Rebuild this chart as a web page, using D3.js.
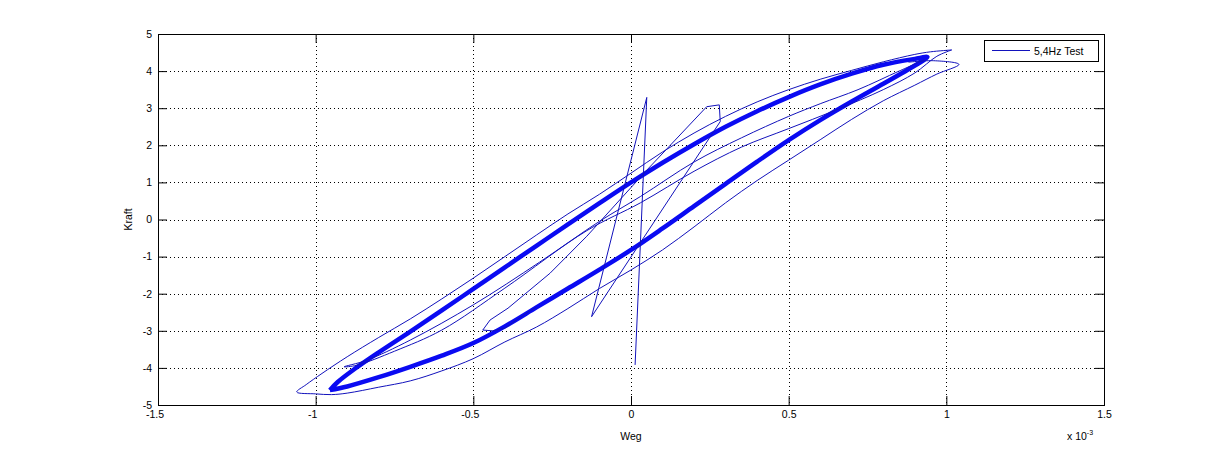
<!DOCTYPE html>
<html>
<head>
<meta charset="utf-8">
<script src="https://d3js.org/d3.v7.min.js"></script>
<style>
  body { margin: 0; background: #fff; }
  text { font-family: "Liberation Sans", Arial, sans-serif; font-size: 10.5px; fill: #000; }
</style>
</head>
<body>
<div id="plot"></div>
<script>
// Weg values are in units of 1e-3 (axis shows "x 10^-3"), Kraft as plotted
var xTicks = [-1.5, -1, -0.5, 0, 0.5, 1, 1.5];
var yTicks = [-5, -4, -3, -2, -1, 0, 1, 2, 3, 4, 5];
var legendLabel = "5,4Hz Test";

// start-up transient: spike, back-swing and the first small loop
var transient = [
    [0.013, -3.92], [0.05, 3.29], [-0.125, -2.62], [0.283, 2.64], [0.28, 3.09],
    [0.24, 3.04], [0.05, 1.33], [-0.14, -0.45], [-0.257, -1.45], [-0.39, -2.39],
    [-0.447, -2.71], [-0.47, -2.98], [-0.44, -3.0], [-0.4, -2.93], [-0.35, -2.63],
    [-0.3, -2.36]
];

// steady cycles (many overlaid, drawn as one heavy trace)
var mainLower = [
    [-0.955, -4.6], [-0.9, -4.5], [-0.8, -4.25], [-0.7, -3.97], [-0.6, -3.67],
    [-0.5, -3.33], [-0.4, -2.88], [-0.3, -2.37], [-0.2, -1.86], [-0.1, -1.35],
    [0, -0.82], [0.1, -0.24], [0.2, 0.36], [0.3, 0.96], [0.4, 1.56],
    [0.5, 2.14], [0.6, 2.68], [0.7, 3.18], [0.8, 3.66], [0.88, 4.05],
    [0.94, 4.38]
];
var mainUpper = [
    [0.94, 4.38], [0.9, 4.33], [0.8, 4.17], [0.7, 3.93], [0.6, 3.64],
    [0.5, 3.3], [0.4, 2.92], [0.3, 2.5], [0.2, 2.03], [0.1, 1.53],
    [0, 1.0], [-0.1, 0.44], [-0.2, -0.13], [-0.3, -0.71], [-0.4, -1.29],
    [-0.5, -1.87], [-0.6, -2.45], [-0.7, -3.02], [-0.8, -3.58], [-0.88, -4.05],
    [-0.93, -4.38], [-0.955, -4.6]
];

// smaller inner cycle running between the main branches
var innerLoop = [
    [0.93, 4.3], [0.85, 4.0], [0.72, 3.5], [0.6, 3.12], [0.5, 2.78],
    [0.35, 2.2], [0.2, 1.55], [0.03, 0.62], [-0.1, -0.05], [-0.29, -1.15],
    [-0.5, -2.3], [-0.7, -3.25], [-0.84, -3.8], [-0.91, -3.97], [-0.87, -3.93],
    [-0.75, -3.55], [-0.6, -2.98], [-0.4, -1.85], [-0.14, -0.3], [0.03, 0.45],
    [0.2, 1.3], [0.35, 1.95], [0.5, 2.45], [0.65, 2.95], [0.8, 3.5],
    [0.9, 3.95], [0.97, 4.4], [1.017, 4.57]
];

// widest cycle (outer thin trace)
var outerLoop = [
    [1.017, 4.57], [0.95, 4.52], [0.9, 4.45], [0.8, 4.25], [0.7, 4.02],
    [0.6, 3.78], [0.5, 3.5], [0.4, 3.17], [0.3, 2.78], [0.2, 2.33],
    [0.1, 1.82], [0, 1.25], [-0.1, 0.68], [-0.2, 0.15], [-0.3, -0.42],
    [-0.4, -1.0], [-0.5, -1.58], [-0.6, -2.14], [-0.7, -2.68], [-0.8, -3.18],
    [-0.9, -3.7], [-0.98, -4.15], [-1.03, -4.45], [-1.06, -4.65], [-1.0, -4.7],
    [-0.95, -4.72], [-0.9, -4.68], [-0.8, -4.52], [-0.7, -4.35], [-0.6, -4.08],
    [-0.5, -3.75], [-0.4, -3.3], [-0.3, -2.9], [-0.2, -2.4], [-0.1, -1.86],
    [0, -1.36], [0.1, -0.82], [0.2, -0.2], [0.3, 0.45], [0.4, 1.05],
    [0.5, 1.6], [0.6, 2.15], [0.7, 2.7], [0.8, 3.2], [0.9, 3.62],
    [0.97, 3.92], [1.04, 4.18], [0.96, 4.28], [0.88, 4.24]
];

var svgWidth = 1219;
var svgHeight = 455;

var margin = {t: 34, r: 115, b: 50, l: 158};
var width = svgWidth - margin.l - margin.r;
var height = svgHeight - margin.t - margin.b;

var heavyColor = "#0a0af2";
var thinColor = "#1212bc";

var svg = d3.select("#plot")
    .append("svg")
    .attr("width", svgWidth)
    .attr("height", svgHeight);

var chartGroup = svg.append("g")
    .attr("transform", `translate(${margin.l}, ${margin.t})`);

var x = d3.scaleLinear().domain([-1.5, 1.5]).range([0, width]);
var y = d3.scaleLinear().domain([-5, 5]).range([height, 0]);

// dotted grid
chartGroup.selectAll(".gridx")
    .data(xTicks.slice(1, -1))
    .enter()
    .append("line")
    .attr("x1", d => Math.round(x(d)) + 0.5)
    .attr("x2", d => Math.round(x(d)) + 0.5)
    .attr("y1", 0)
    .attr("y2", height)
    .attr("stroke", "#000")
    .attr("stroke-dasharray", "1,3");

chartGroup.selectAll(".gridy")
    .data(yTicks.slice(1, -1))
    .enter()
    .append("line")
    .attr("y1", d => Math.round(y(d)) + 0.5)
    .attr("y2", d => Math.round(y(d)) + 0.5)
    .attr("x1", 0)
    .attr("x2", width)
    .attr("stroke", "#000")
    .attr("stroke-dasharray", "1,3");

// axes with inward ticks on all four sides
function styleAxis(g) {
    g.select(".domain").remove();
    g.selectAll(".tick line").attr("stroke", "#000");
    g.selectAll("text").attr("font-family", null).attr("font-size", null);
}

chartGroup.append("g")
    .attr("transform", `translate(0, ${height})`)
    .call(d3.axisBottom(x).tickValues(xTicks).tickSize(-9).tickPadding(6).tickFormat(d => String(d)))
    .call(styleAxis)
    .selectAll("text")
    .attr("dx", d => d < 0 ? -3.5 : 0);

chartGroup.append("g")
    .call(d3.axisTop(x).tickValues(xTicks).tickSize(-9).tickFormat(""))
    .call(styleAxis);

chartGroup.append("g")
    .call(d3.axisLeft(y).tickValues(yTicks).tickSize(-9).tickPadding(6).tickFormat(d => String(d)))
    .call(styleAxis);

chartGroup.append("g")
    .attr("transform", `translate(${width}, 0)`)
    .call(d3.axisRight(y).tickValues(yTicks).tickSize(-9).tickFormat(""))
    .call(styleAxis);

// data traces
var smooth = d3.line()
    .x(d => x(d[0]))
    .y(d => y(d[1]))
    .curve(d3.curveCatmullRom.alpha(0.5));

var straight = d3.line()
    .x(d => x(d[0]))
    .y(d => y(d[1]));

var plotArea = chartGroup.append("g");

plotArea.append("path")
    .attr("d", smooth(mainLower.concat(mainUpper.slice(1))))
    .attr("fill", "none")
    .attr("stroke", heavyColor)
    .attr("stroke-width", 4.5)
    .attr("stroke-linejoin", "round");

[innerLoop, outerLoop].forEach(function(loop) {
    plotArea.append("path")
        .attr("d", smooth(loop))
        .attr("fill", "none")
        .attr("stroke", thinColor)
        .attr("stroke-width", 1);
});

plotArea.append("path")
    .attr("d", straight(transient))
    .attr("fill", "none")
    .attr("stroke", thinColor)
    .attr("stroke-width", 1);

// box
chartGroup.append("rect")
    .attr("x", 0.5)
    .attr("y", 0.5)
    .attr("width", width)
    .attr("height", height)
    .attr("fill", "none")
    .attr("stroke", "#000")
    .attr("shape-rendering", "crispEdges");

// axis labels
chartGroup.append("text")
    .attr("x", width / 2)
    .attr("y", height + 35)
    .attr("text-anchor", "middle")
    .text("Weg");

chartGroup.append("text")
    .attr("transform", "rotate(-90)")
    .attr("x", -height / 2)
    .attr("y", -26)
    .attr("text-anchor", "middle")
    .text("Kraft");

// exponent note
var expo = chartGroup.append("text")
    .attr("x", width - 37)
    .attr("y", height + 35);
expo.append("tspan").text("x 10");
expo.append("tspan").attr("dy", -5).attr("font-size", "7px").text("-3");

// legend
var legend = chartGroup.append("g")
    .attr("transform", `translate(${width - 120}, 6)`);

legend.append("rect")
    .attr("x", 0.5)
    .attr("y", 0.5)
    .attr("width", 114)
    .attr("height", 21)
    .attr("fill", "#fff")
    .attr("stroke", "#000")
    .attr("shape-rendering", "crispEdges");

legend.append("line")
    .attr("x1", 8)
    .attr("x2", 46)
    .attr("y1", 10.5)
    .attr("y2", 10.5)
    .attr("stroke", thinColor)
    .attr("stroke-width", 1);

legend.append("text")
    .attr("x", 50)
    .attr("y", 14.5)
    .text(legendLabel);
</script>
</body>
</html>
